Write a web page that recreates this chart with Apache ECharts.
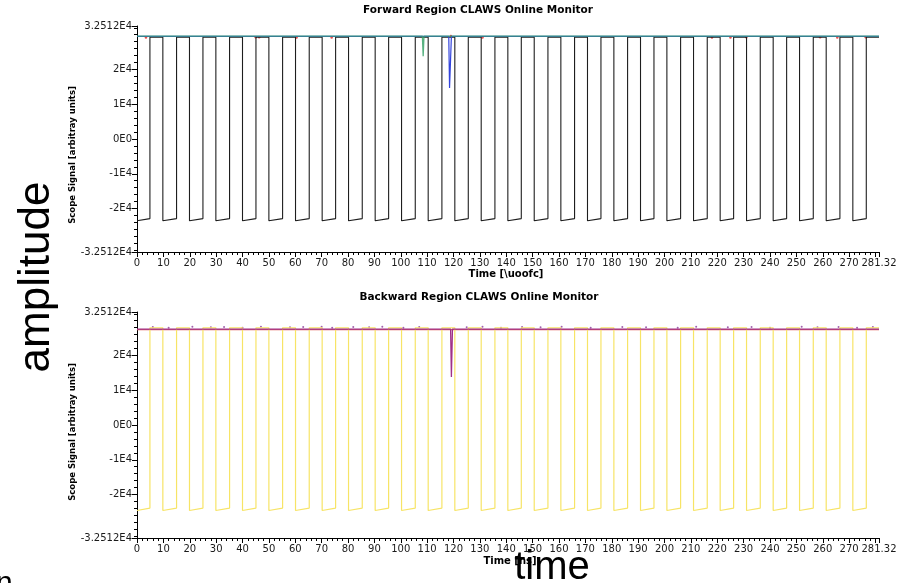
<!DOCTYPE html>
<html><head><meta charset="utf-8">
<script src="https://cdn.jsdelivr.net/npm/echarts@6/dist/echarts.min.js"></script>
<style>html,body{margin:0;padding:0;background:#fff}#c{width:914px;height:583px}</style>
</head><body><div id="c"></div>
<script>
// ---- data ----
const xMax = 281.32;
const yMin = -32512, yMax = 32512;
const yTickValues = [-32512, -20000, -10000, 0, 10000, 20000, 32512];
const yTickLabels = ['-3.2512E4', '-2E4', '-1E4', '0E0', '1E4', '2E4', '3.2512E4'];
const yMinorValues = [-32000,-30000,-28000,-26000,-24000,-22000,-20000,-18000,-16000,-14000,-12000,-10000,-8000,-6000,-4000,-2000,0,2000,4000,6000,8000,10000,12000,14000,16000,18000,20000,22000,24000,26000,28000,30000,32000];
const xHiddenLabels = [280];

// rising (low -> high) and falling (high -> low) edges of the square pulses
const riseTimes = [4.9,15.0,25.0,35.1,45.1,55.2,65.3,75.3,85.4,95.4,105.5,115.6,125.6,135.7,145.7,155.8,165.9,175.9,186.0,196.0,206.1,216.2,226.2,236.3,246.3,256.4,266.5,276.5];
const fallTimes = [9.8,19.9,29.9,40.0,50.0,60.1,70.2,80.2,90.3,100.3,110.4,120.5,130.5,140.6,150.6,160.7,170.8,180.8,190.9,200.9,211.0,221.1,231.1,241.2,251.2,261.3,271.4];

// forward (top) levels
const fwdHigh = 29300, fwdLowStart = -23500, fwdLowEnd = -22900;
const greenT = [0, 108.2, 108.5, 108.8, 281.32];
const greenV = [29600, 29600, 23800, 29600, 29600];
const blueT = [0, 118.2, 118.5, 118.9, 119.2, 281.32];
const blueV = [29550, 29550, 14700, 14900, 29550, 29550];
const redDotT = [3.4, 45.0, 46.3, 60.5, 73.8, 119.0, 131.0, 218.0, 225.0, 231.0, 259.0, 265.5, 276.3];
const redDotV = [29200, 29250, 29250, 29200, 29200, 29650, 29200, 29200, 29200, 29250, 29250, 29200, 29250];

// backward (bottom) levels
const bwdHigh = 27950, bwdLowStart = -24600, bwdLowEnd = -23900;
const redLineT = [0, 281.32];
const redLineV = [27450, 27450];
const purpleT = [0, 118.9, 119.2, 119.6, 281.32];
const purpleV = [27600, 27600, 13800, 27600, 27600];
const purpleDotT = [6, 12, 21, 28, 33, 40, 47, 58, 63, 70, 74, 82, 88, 93, 101, 107, 125, 131, 138, 146, 153, 161, 172, 184, 193, 205, 212, 224, 233, 240, 252, 258, 266, 273, 279];
const purpleDotV = [28200, 28000, 28300, 28100, 28200, 28000, 28300, 28100, 28200, 28300, 28000, 28200, 28100, 28300, 28000, 28200, 28100, 28300, 28000, 28200, 28100, 28300, 28000, 28200, 28100, 28000, 28300, 28100, 28200, 28000, 28300, 28100, 28200, 28000, 28200];

// ---- helpers ----
function squareWave(high, lowStart, lowEnd) {
  const pts = [[0, lowStart]];
  for (let k = 0; k < riseTimes.length; k++) {
    pts.push([riseTimes[k], lowEnd]);
    pts.push([riseTimes[k], high]);
    if (k < fallTimes.length) {
      pts.push([fallTimes[k], high]);
      pts.push([fallTimes[k], lowStart]);
    }
  }
  pts.push([xMax, high]);
  return pts;
}
const zip = (t, v) => t.map((x, i) => [x, v[i]]);

const labelFont = {fontFamily: 'DejaVu Sans', fontSize: 10, color: '#1a1a1a'};
function xAxisFor(g) {
  return {
    gridIndex: g, type: 'value', min: 0, max: xMax, interval: 10,
    axisLine: {show: true, onZero: false, lineStyle: {color: '#000', width: 1}},
    axisTick: {show: true, length: 5, lineStyle: {color: '#000'}},
    minorTick: {show: true, splitNumber: 5, length: 3, lineStyle: {color: '#000'}},
    splitLine: {show: false},
    axisLabel: Object.assign({}, labelFont, {margin: 6, showMinLabel: true, showMaxLabel: true,
      formatter: v => xHiddenLabels.includes(v) ? '' : (Math.abs(v - xMax) < 1e-6 ? String(xMax) : String(v))})
  };
}
function yAxesFor(g) {
  return [{
    gridIndex: g, type: 'value', min: yMin, max: yMax, position: 'left',
    axisLine: {show: true, onZero: false, lineStyle: {color: '#000', width: 1}},
    axisTick: {show: true, length: 5, customValues: yTickValues, lineStyle: {color: '#000'}},
    splitLine: {show: false},
    axisLabel: Object.assign({}, labelFont, {margin: 5, customValues: yTickValues,
      formatter: v => { const i = yTickValues.indexOf(v); return i >= 0 ? yTickLabels[i] : ''; }})
  }, {
    gridIndex: g, type: 'value', min: yMin, max: yMax, position: 'left',
    axisLine: {show: false},
    axisTick: {show: true, length: 3, customValues: yMinorValues, lineStyle: {color: '#000'}},
    splitLine: {show: false},
    axisLabel: {show: false}
  }];
}

const chart = echarts.init(document.getElementById('c'), null, {renderer: 'canvas'});
const lineBase = {type: 'line', showSymbol: false, symbol: 'none', animation: false};
chart.setOption({
  animation: false,
  backgroundColor: '#fff',
  grid: [
    {left: 137, right: 35, top: 26, height: 226},
    {left: 137, right: 35, top: 312, height: 226}
  ],
  xAxis: [xAxisFor(0), xAxisFor(1)],
  yAxis: [...yAxesFor(0), ...yAxesFor(1)],
  series: [
    Object.assign({}, lineBase, {xAxisIndex: 0, yAxisIndex: 0, data: squareWave(fwdHigh, fwdLowStart, fwdLowEnd),
      lineStyle: {color: '#1e1e1e', width: 1.1}}),
    Object.assign({}, lineBase, {xAxisIndex: 0, yAxisIndex: 0, data: zip(blueT, blueV),
      lineStyle: {color: '#3344dd', width: 1.2}}),
    Object.assign({}, lineBase, {xAxisIndex: 0, yAxisIndex: 0, data: zip(greenT, greenV),
      lineStyle: {color: '#3aa36a', width: 1.3, opacity: 0.85}}),
    {type: 'scatter', xAxisIndex: 0, yAxisIndex: 0, data: zip(redDotT, redDotV), symbolSize: 2.5,
      itemStyle: {color: '#e02020'}, animation: false},
    Object.assign({}, lineBase, {xAxisIndex: 1, yAxisIndex: 2, data: zip(redLineT, redLineV),
      lineStyle: {color: '#e4605a', width: 1.3}}),
    Object.assign({}, lineBase, {xAxisIndex: 1, yAxisIndex: 2, data: squareWave(bwdHigh, bwdLowStart, bwdLowEnd),
      lineStyle: {color: '#f7e466', width: 1.2}}),
    {type: 'scatter', xAxisIndex: 1, yAxisIndex: 2, data: zip(purpleDotT, purpleDotV), symbolSize: 2,
      itemStyle: {color: '#8a3a9a'}, animation: false},
    Object.assign({}, lineBase, {xAxisIndex: 1, yAxisIndex: 2, data: zip(purpleT, purpleV),
      lineStyle: {color: '#a03088', width: 1.3}})
  ],
  graphic: [
    {type: 'text', x: 478, y: 10, style: {text: 'Forward Region CLAWS Online Monitor', font: 'bold 10.5px "DejaVu Sans"', fill: '#000', align: 'center', verticalAlign: 'middle'}},
    {type: 'text', x: 479, y: 297, style: {text: 'Backward Region CLAWS Online Monitor', font: 'bold 10.5px "DejaVu Sans"', fill: '#000', align: 'center', verticalAlign: 'middle'}},
    {type: 'text', x: 506, y: 274, style: {text: 'Time [\\uoofc]', font: 'bold 10px "DejaVu Sans"', fill: '#000', align: 'center', verticalAlign: 'middle'}},
    {type: 'text', x: 510, y: 561, style: {text: 'Time [ns]', font: 'bold 10px "DejaVu Sans"', fill: '#000', align: 'center', verticalAlign: 'middle'}},
    {type: 'text', x: 73, y: 155, rotation: Math.PI / 2, style: {text: 'Scope Signal [arbitray units]', font: 'bold 8.5px "DejaVu Sans"', fill: '#000', align: 'center', verticalAlign: 'middle'}},
    {type: 'text', x: 73, y: 432, rotation: Math.PI / 2, style: {text: 'Scope Signal [arbitray units]', font: 'bold 8.5px "DejaVu Sans"', fill: '#000', align: 'center', verticalAlign: 'middle'}},
    {type: 'text', x: 37, y: 277, rotation: Math.PI / 2, style: {text: 'amplitude', font: '44px "Liberation Sans"', fill: '#000', align: 'center', verticalAlign: 'middle'}},
    {type: 'text', x: 552, y: 568, style: {text: 'time', font: '40px "Liberation Sans"', fill: '#000', align: 'center', verticalAlign: 'middle'}},
    {type: 'text', x: -4, y: 569, style: {text: 'n', font: '30px "Liberation Sans"', fill: '#000', align: 'left', verticalAlign: 'top'}}
  ]
});
</script></body></html>
